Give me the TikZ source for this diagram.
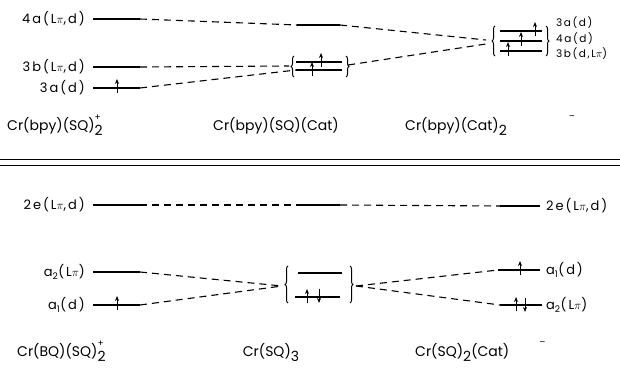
\documentclass[tikz,border=0pt]{standalone}
\usepackage{fontspec}
\setmainfont{Poppins}
\newfontfamily\labfont[LetterSpace=15]{Poppins}
\usetikzlibrary{arrows.meta,decorations.pathreplacing}
\begin{document}
\begin{tikzpicture}[x=1pt,y=-1pt,
  lvl/.style={line width=1.6pt},
  corr/.style={line width=1.1pt,dash pattern=on 7pt off 5pt},
  spin/.style={-{Stealth[length=5pt,width=4pt]},line width=1pt},
  brc/.style={decorate,decoration={brace,amplitude=3pt},line width=1pt},
  lab/.style={font=\labfont\fontsize{13}{15}\selectfont,inner sep=1pt},
  slab/.style={font=\labfont\fontsize{10.5}{12}\selectfont,inner sep=1pt},
  ttl/.style={font=\fontsize{14}{16}\selectfont,inner sep=0pt}
]
  \useasboundingbox (0,0) rectangle (620,371);

  % upper panel: levels
  \coordinate (ua4L) at (93,19);   \coordinate (ua4R) at (140,19);
  \coordinate (ub3L) at (93,67);   \coordinate (ub3R) at (140,67);
  \coordinate (ua3L) at (93,88);   \coordinate (ua3R) at (140,88);
  \coordinate (um4L) at (297,25);  \coordinate (um4R) at (340,25);
  \coordinate (umhL) at (296,62);  \coordinate (umhR) at (342,62);
  \coordinate (umlL) at (296,70);  \coordinate (umlR) at (342,70);
  \coordinate (umbL) at (289,66);  \coordinate (umbR) at (348,65);
  \coordinate (ur1L) at (500,31);  \coordinate (ur1R) at (542,31);
  \coordinate (ur2L) at (500,41);  \coordinate (ur2R) at (542,41);
  \coordinate (ur3L) at (500,51);  \coordinate (ur3R) at (542,51);
  \coordinate (urbA) at (486,40);  \coordinate (urbB) at (486,44);

  \foreach \p in {ua4,ub3,ua3,um4,umh,uml,ur1,ur2,ur3}
    \draw[lvl] (\p L) -- (\p R);

  \draw[brc] (294,77) -- (294,56);
  \draw[brc] (346,56) -- (346,77);
  \draw[brc] (495,56) -- (495,26);
  \draw[brc] (546,26) -- (546,56);

  \draw[corr] (ua4R) -- (um4L);
  \draw[corr] (um4R) -- (urbA);
  \draw[corr] (ub3R) -- (umbL);
  \draw[corr] (ua3R) -- (umlL);
  \draw[corr] (umbR) -- (urbB);

  \draw[spin] (117,93) -- (117,79);
  \draw[spin] (312,76) -- (312,62);
  \draw[spin] (321,67) -- (321,53);
  \draw[spin] (535,36) -- (535,22);
  \draw[spin] (521,46) -- (521,32);
  \draw[spin] (508,56) -- (508,42);

  \node[lab,anchor=east] (t4a) at (86,19) {4a(L$\pi$,d)};
  \node[lab,anchor=east] (t3b) at (86,67) {3b(L$\pi$,d)};
  \node[lab,anchor=east] (t3a) at (86,88) {3a(d)};
  \node[slab,anchor=west] (r3a) at (555,23) {3a(d)};
  \node[slab,anchor=west] (r4a) at (555,39) {4a(d)};
  \node[slab,anchor=west] (r3b) at (555,54) {3b(d,L$\pi$)};

  \node[ttl,anchor=base west] (cA) at (7,131)
    {Cr(bpy)(SQ)\rlap{\raisebox{10pt}{\small+}}\raisebox{-5pt}{2}};
  \node[ttl,anchor=base] (cB) at (276,131) {Cr(bpy)(SQ)(Cat)};
  \node[ttl,anchor=base west] (cC) at (405,131)
    {Cr(bpy)(Cat)\raisebox{-5pt}{2}\hspace{62pt}\raisebox{11pt}{\small\textendash}};

  % separator
  \draw[line width=1pt] (0,160) -- (620,160);
  \draw[line width=1pt] (0,166) -- (620,166);

  % lower panel: levels
  \coordinate (le2L) at (93,205);  \coordinate (le2R) at (140,205);
  \coordinate (lm2L) at (297,205); \coordinate (lm2R) at (340,205);
  \coordinate (lr2L) at (500,206); \coordinate (lr2R) at (540,206);
  \coordinate (la2L) at (93,272);  \coordinate (la2R) at (140,272);
  \coordinate (la1L) at (93,305);  \coordinate (la1R) at (140,305);
  \coordinate (lmhL) at (298,273); \coordinate (lmhR) at (342,273);
  \coordinate (lmlL) at (295,297); \coordinate (lmlR) at (340,297);
  \coordinate (lmbL) at (282,286); \coordinate (lmbR) at (356,286);
  \coordinate (lr1L) at (498,270); \coordinate (lr1R) at (540,270);
  \coordinate (lr0L) at (500,305); \coordinate (lr0R) at (542,305);

  \foreach \p in {le2,lm2,lr2,la2,la1,lmh,lml,lr1,lr0}
    \draw[lvl] (\p L) -- (\p R);

  \draw[brc] (288,303) -- (288,266);
  \draw[brc] (350,266) -- (350,303);

  \draw[corr] (le2R) -- (lm2L);
  \draw[corr] (lm2R) -- (lr2L);
  \draw[corr] (la2R) -- (lmbL);
  \draw[corr] (la1R) -- (lmbL);
  \draw[corr] (lmbR) -- (lr1L);
  \draw[corr] (lmbR) -- (lr0L);

  \draw[spin] (117,310) -- (117,296);
  \draw[spin] (307,303) -- (307,289);
  \draw[spin] (319,289) -- (319,303);
  \draw[spin] (520,275) -- (520,261);
  \draw[spin] (516,311) -- (516,297);
  \draw[spin] (525,298) -- (525,312);

  \node[lab,anchor=east] (t2e) at (86,205) {2e(L$\pi$,d)};
  \node[lab,anchor=east] (ta2) at (86,272) {a\textsubscript{2}(L$\pi$)};
  \node[lab,anchor=east] (ta1) at (86,305) {a\textsubscript{1}(d)};
  \node[lab,anchor=west] (r2e) at (545,206) {2e(L$\pi$,d)};
  \node[lab,anchor=west] (ra1) at (545,270) {a\textsubscript{1}(d)};
  \node[lab,anchor=west] (ra2) at (545,305) {a\textsubscript{2}(L$\pi$)};

  \node[ttl,anchor=base west] (cD) at (17,356)
    {Cr(BQ)(SQ)\rlap{\raisebox{10pt}{\small+}}\raisebox{-5pt}{2}};
  \node[ttl,anchor=base] (cE) at (271,356) {Cr(SQ)\raisebox{-5pt}{3}};
  \node[ttl,anchor=base west] (cF) at (415,356)
    {Cr(SQ)\raisebox{-5pt}{2}(Cat)\hspace{30pt}\raisebox{11pt}{\small\textendash}};
\end{tikzpicture}
\end{document}
